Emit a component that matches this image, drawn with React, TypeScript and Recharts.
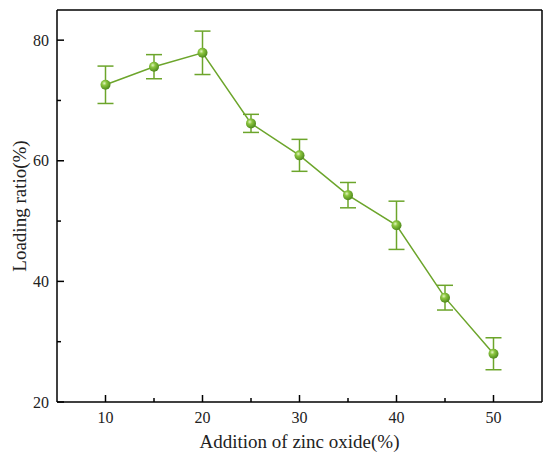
import React from "react";
import {
  LineChart,
  Line,
  XAxis,
  YAxis,
  ErrorBar,
  ReferenceLine,
  Label,
} from "recharts";

const additions = [10, 15, 20, 25, 30, 35, 40, 45, 50];
const loadingRatio = [72.6, 75.6, 77.9, 66.2, 60.9, 54.3, 49.3, 37.3, 28.0];
const loadingError = [3.1, 2.0, 3.6, 1.5, 2.65, 2.1, 4.0, 2.05, 2.65];

const xTicks = [10, 15, 20, 25, 30, 35, 40, 45, 50];
const yTicks = [20, 30, 40, 50, 60, 70, 80];

const data = additions.map((x, i) => ({
  x,
  y: loadingRatio[i],
  err: loadingError[i],
}));

const GREEN = "#6ca52b";
const FONT = "'Liberation Serif', 'Times New Roman', serif";

// inward ticks, labels only on the major ones
const XTick = (props: any) => {
  const { x, y, payload } = props;
  const major = payload.value % 10 === 0;
  return (
    <g>
      <path d={`M${x},${y}V${y - (major ? 7 : 4)}`} stroke="#000" strokeWidth={1.5} fill="none" />
      {major && (
        <text x={x} y={y + 21} textAnchor="middle" fontSize={16} fontFamily={FONT} fill="#222">
          {payload.value}
        </text>
      )}
    </g>
  );
};

const YTick = (props: any) => {
  const { x, y, payload } = props;
  const major = payload.value % 20 === 0;
  return (
    <g>
      <path d={`M${x},${y}H${x + (major ? 7 : 4)}`} stroke="#000" strokeWidth={1.5} fill="none" />
      {major && (
        <text x={x - 8} y={y + 5.5} textAnchor="end" fontSize={16} fontFamily={FONT} fill="#222">
          {payload.value}
        </text>
      )}
    </g>
  );
};

const Ball = (props: any) => {
  const { cx, cy, index } = props;
  if (cx == null || cy == null) return null;
  const id = `ball-${index}`;
  return (
    <g>
      <defs>
        <radialGradient id={id} cx="38%" cy="35%" r="65%">
          <stop offset="0%" stopColor="#e4f5c2" />
          <stop offset="35%" stopColor="#8cc63f" />
          <stop offset="100%" stopColor="#4f8a1c" />
        </radialGradient>
      </defs>
      <circle cx={cx} cy={cy} r={5} fill={`url(#${id})`} />
    </g>
  );
};

const YTitle = (props: any) => {
  const { viewBox } = props;
  const cx = viewBox.x + 19;
  const cy = viewBox.y + viewBox.height / 2;
  return (
    <text
      x={cx}
      y={cy}
      transform={`rotate(-90, ${cx}, ${cy})`}
      textAnchor="middle"
      dominantBaseline="central"
      fontSize={19}
      fontFamily={FONT}
      fill="#222"
    >
      Loading ratio(%)
    </text>
  );
};

const XTitle = (props: any) => {
  const { viewBox } = props;
  const cx = viewBox.x + viewBox.width / 2;
  return (
    <text
      x={cx}
      y={viewBox.y + 46}
      textAnchor="middle"
      fontSize={19}
      fontFamily={FONT}
      fill="#222"
    >
      Addition of zinc oxide(%)
    </text>
  );
};

export default function App() {
  return (
    <div style={{ position: "absolute", left: 0, top: 0, background: "#fff" }}>
      <LineChart
        width={550}
        height={459}
        data={data}
        margin={{ top: 10, right: 8, left: 0, bottom: 0 }}
      >
        <XAxis
          dataKey="x"
          type="number"
          domain={[5, 55]}
          ticks={xTicks}
          interval={0}
          height={57}
          tickLine={false}
          tickSize={0}
          tickMargin={0}
          tick={<XTick />}
          axisLine={{ stroke: "#000", strokeWidth: 1.5 }}
        >
          <Label content={<XTitle />} />
        </XAxis>
        <YAxis
          type="number"
          domain={[20, 85]}
          ticks={yTicks}
          interval={0}
          width={57}
          tickLine={false}
          tickSize={0}
          tickMargin={0}
          tick={<YTick />}
          axisLine={{ stroke: "#000", strokeWidth: 1.5 }}
        >
          <Label content={<YTitle />} />
        </YAxis>
        <ReferenceLine y={85} stroke="#000" strokeWidth={1.5} />
        <ReferenceLine x={55} stroke="#000" strokeWidth={1.5} />
        <Line
          dataKey="y"
          stroke={GREEN}
          strokeWidth={1.5}
          dot={<Ball />}
          activeDot={false}
          isAnimationActive={false}
        >
          <ErrorBar dataKey="err" width={8} stroke={GREEN} strokeWidth={1.5} isAnimationActive={false} />
        </Line>
      </LineChart>
    </div>
  );
}
